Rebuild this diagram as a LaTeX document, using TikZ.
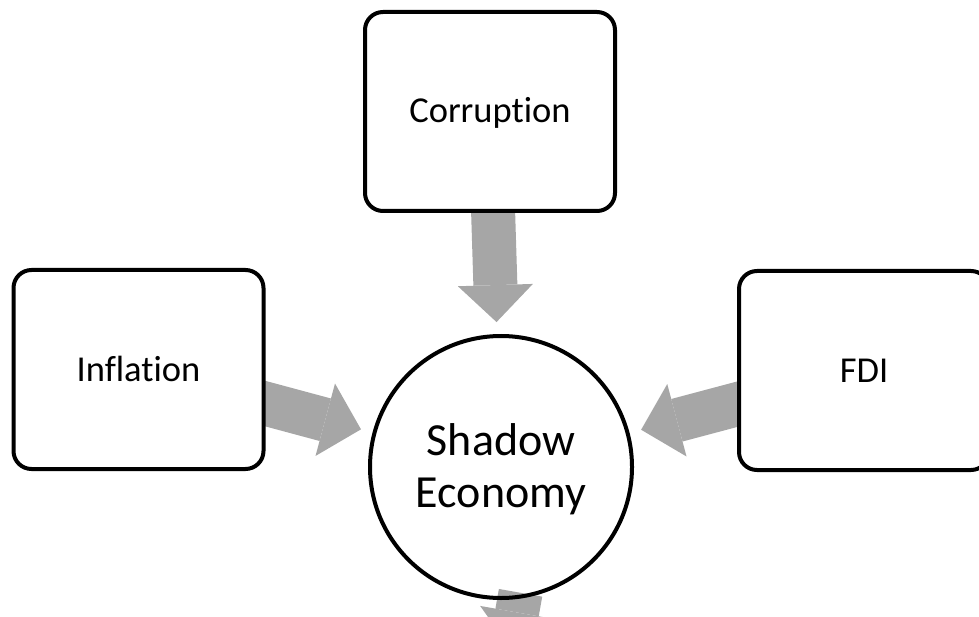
\documentclass[tikz,border=0pt]{standalone}
\usepackage{fontspec}
\setmainfont{Carlito}[Ligatures=NoCommon]
\usetikzlibrary{arrows.meta,backgrounds}
\definecolor{arrowgray}{HTML}{A6A6A6}
\begin{document}
\begin{tikzpicture}[x=1pt, y=1pt,
    factor/.style={draw, line width=4pt, rounded corners=18pt, fill=white,
    minimum width=250pt, minimum height=199pt, font=\fontsize{36.5}{44}\selectfont,
    text height=23pt, text depth=0pt},
    core/.style={draw, circle, line width=4pt, minimum size=262pt, align=center,
    font=\fontsize{46}{52}\selectfont, text height=88pt, text depth=8pt},
    flow/.style={arrowgray, line width=44pt,
    -{Triangle[width=75pt, length=37pt, line width=0pt]}}]
    \useasboundingbox (0,0) rectangle (979,-617);
    \node[core](shadow) at (501,-467){Shadow\\Economy};
    \node[factor](corr) at (490,-111.5){Corruption};
    \node[factor](infl) at (138.5,-369.5){Inflation};
    \node[factor](fdi) at (864,-370.5){FDI};
    \coordinate (next) at (510.6,-648.9);
    \begin{scope}[on background layer]
    \draw[flow, shorten >=12pt] (corr.center) -- (shadow);
    \draw[flow, shorten >=12pt] (infl.center) -- (shadow);
    \draw[flow, shorten >=12pt] (fdi.center) -- (shadow);
    \draw[flow, shorten <=-6pt] (shadow.-82) -- (next);
    \end{scope}
\end{tikzpicture}
\end{document}
